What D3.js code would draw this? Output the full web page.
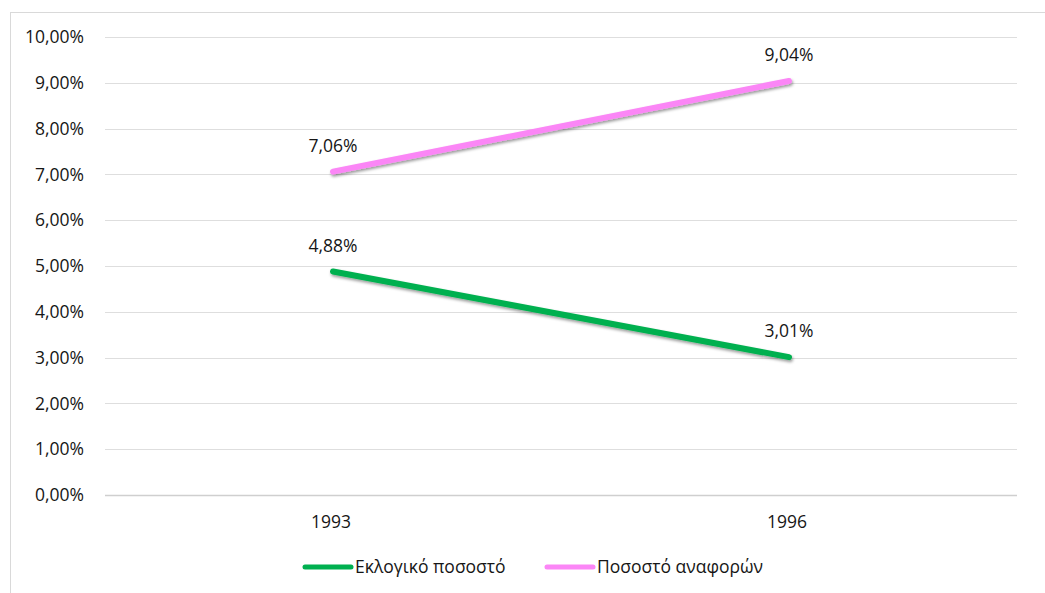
<!DOCTYPE html>
<html>
<head>
<meta charset="utf-8">
<script src="https://cdn.jsdelivr.net/npm/d3@7"></script>
<style>
  body { margin: 0; background: #fff; }
  svg { display: block; font-family: "Open Sans", "Noto Sans", sans-serif; }
</style>
</head>
<body>
<script>
const years = ["1993", "1996"];
const electoral = [0.0488, 0.0301];
const mentions = [0.0706, 0.0904];
const seriesNames = ["Εκλογικό ποσοστό", "Ποσοστό αναφορών"];
const seriesColors = ["#00b050", "#fb86f6"];
const yTicks = d3.range(0, 0.1001, 0.01);

const width = 1045;
const height = 593;
const margin = { top: 37, right: 28, bottom: 98, left: 105 };
const fontSize = 17.5;
const textColor = "#161616";

const svg = d3.select("body").append("svg")
  .attr("width", width)
  .attr("height", height);

const defs = svg.append("defs");
const shadow = defs.append("filter")
  .attr("id", "shadow")
  .attr("x", "-10%").attr("y", "-50%")
  .attr("width", "120%").attr("height", "200%");
shadow.append("feDropShadow")
  .attr("dx", 1).attr("dy", 2)
  .attr("stdDeviation", 1.8)
  .attr("flood-color", "#000")
  .attr("flood-opacity", 0.4);

// chart frame (runs past the right and bottom edge of the window)
svg.append("rect")
  .attr("x", 10.5).attr("y", 12.5)
  .attr("width", width + 20).attr("height", height + 20)
  .attr("fill", "#fff")
  .attr("stroke", "#d9d9d9");

const x = d3.scaleBand()
  .domain(years)
  .range([margin.left, width - margin.right]);

const y = d3.scaleLinear()
  .domain([0, 0.1])
  .range([height - margin.bottom, margin.top]);

const fmt = v => d3.format(".2f")(v * 100).replace(".", ",") + "%";

// gridlines
svg.append("g")
  .selectAll("line")
  .data(yTicks)
  .join("line")
  .attr("x1", margin.left)
  .attr("x2", width - margin.right)
  .attr("y1", d => Math.round(y(d)) + 0.5)
  .attr("y2", d => Math.round(y(d)) + 0.5)
  .attr("stroke", d => d === 0 ? "#cfcfcf" : "#dedede")
  .attr("stroke-width", d => d === 0 ? 1.5 : 1);

// y axis labels
svg.append("g")
  .selectAll("text")
  .data(yTicks)
  .join("text")
  .attr("x", 84)
  .attr("y", d => y(d))
  .attr("dy", "0.35em")
  .attr("text-anchor", "end")
  .attr("font-size", fontSize)
  .attr("fill", textColor)
  .text(fmt);

// x axis labels
svg.append("g")
  .selectAll("text")
  .data(years)
  .join("text")
  .attr("x", d => x(d) + x.bandwidth() / 2 - 2)
  .attr("y", 522)
  .attr("dy", "0.35em")
  .attr("text-anchor", "middle")
  .attr("font-size", fontSize)
  .attr("fill", textColor)
  .text(d => d);

const series = [electoral, mentions].map((vals, i) => ({
  name: seriesNames[i],
  color: seriesColors[i],
  points: vals.map((v, j) => ({ year: years[j], value: v }))
}));

const line = d3.line()
  .x(d => x(d.year) + x.bandwidth() / 2)
  .y(d => y(d.value));

svg.append("g")
  .selectAll("path")
  .data(series)
  .join("path")
  .attr("d", d => line(d.points))
  .attr("fill", "none")
  .attr("stroke", d => d.color)
  .attr("stroke-width", 6)
  .attr("stroke-linecap", "round")
  .attr("filter", "url(#shadow)");

// data labels
svg.append("g")
  .selectAll("text")
  .data(series.flatMap(s => s.points))
  .join("text")
  .attr("x", d => x(d.year) + x.bandwidth() / 2)
  .attr("y", d => y(d.value) - 26)
  .attr("dy", "0.35em")
  .attr("text-anchor", "middle")
  .attr("font-size", fontSize)
  .attr("fill", textColor)
  .text(d => fmt(d.value));

// legend
const legendX = [303, 545];
const legend = svg.append("g")
  .selectAll("g")
  .data(series)
  .join("g")
  .attr("transform", (d, i) => `translate(${legendX[i]},567)`);

legend.append("line")
  .attr("x1", 2).attr("x2", 48)
  .attr("stroke", d => d.color)
  .attr("stroke-width", 5)
  .attr("stroke-linecap", "round");

legend.append("text")
  .attr("x", 52)
  .attr("dy", "0.35em")
  .attr("font-size", fontSize)
  .attr("fill", textColor)
  .text(d => d.name);
</script>
</body>
</html>
